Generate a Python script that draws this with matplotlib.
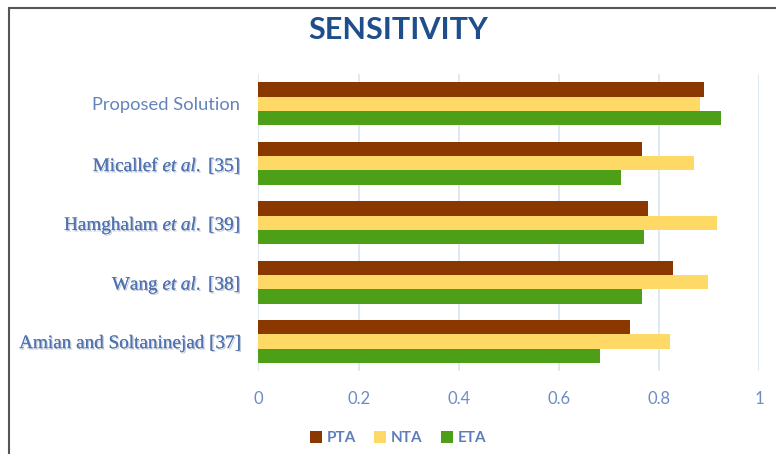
import matplotlib
matplotlib.use("Agg")
import matplotlib.pyplot as plt
import matplotlib.patheffects as pe
from matplotlib.patches import Rectangle
import numpy as np

plt.rcParams['mathtext.fontset'] = 'custom'
plt.rcParams['mathtext.rm'] = 'Liberation Serif'
plt.rcParams['mathtext.it'] = 'Liberation Serif:italic'

methods = ["Amian and Soltaninejad [37]",
           r"Wang $\mathit{et\ al.}$ [38]",
           r"Hamghalam $\mathit{et\ al.}$ [39]",
           r"Micallef $\mathit{et\ al.}$ [35]",
           "Proposed Solution"]
series = ["PTA", "NTA", "ETA"]
pta = [0.742, 0.827, 0.777, 0.765, 0.889]
nta = [0.821, 0.898, 0.915, 0.870, 0.882]
eta = [0.681, 0.766, 0.769, 0.723, 0.924]
xticks = [0, 0.2, 0.4, 0.6, 0.8, 1]

colors = {"PTA": "#8B3800", "NTA": "#FFD966", "ETA": "#4E9F18"}
label_blue = "#4F72B0"

fig = plt.figure(figsize=(7.76, 4.54), dpi=100)
ax = fig.add_axes([0.333, 0.182, 0.6455, 0.655])

y = np.arange(len(methods))
h = 0.24
for off, name, vals in [(h, "PTA", pta), (0, "NTA", nta), (-h, "ETA", eta)]:
    ax.barh(y + off, vals, height=h, color=colors[name], label=name, zorder=3)

ax.set_xlim(0, 1)
ax.set_ylim(-0.5, 4.5)
ax.set_xticks(xticks)
ax.set_xticklabels([f"{t:g}" for t in xticks], color="#6C8CC4",
                   fontsize=12, family="Lato")
ax.tick_params(axis="x", length=0, pad=14)
ax.tick_params(axis="y", length=0, pad=13)
ax.grid(axis="x", color="#DCE6F4", linewidth=1.3, zorder=0)
for s in ax.spines.values():
    s.set_visible(False)

ax.set_yticks(y)
ax.set_yticklabels(methods)
for lab in ax.get_yticklabels():
    if lab.get_text() == "Proposed Solution":
        lab.set_family("Lato")
        lab.set_fontsize(13.2)
        lab.set_color("#6584BC")
    else:
        lab.set_family("Liberation Serif")
        lab.set_fontsize(13.8)
        lab.set_color(label_blue)
        lab.set_path_effects([pe.withSimplePatchShadow(offset=(1, -1),
                                                       shadow_rgbFace="#8896B0",
                                                       alpha=0.5), pe.Normal()])

fig.text(0.513, 0.935, "SENSITIVITY", ha="center", va="center",
         fontsize=22, fontweight="bold", color="#1F4E8C", family="Lato")

leg = fig.legend(loc="center", bbox_to_anchor=(0.513, 0.035), ncol=3, frameon=False,
                 handlelength=0.8, handleheight=0.8, handletextpad=0.3,
                 columnspacing=1.2, prop={"family": "Lato", "size": 11, "weight": "bold"})
for t in leg.get_texts():
    t.set_color("#5F7DB8")

# outer frame of the chart area
fig.patches.append(Rectangle((9 / 776, -0.1), 1.2, 1.1 - 8 / 454,
                             transform=fig.transFigure, fill=False,
                             edgecolor="#555555", linewidth=1.5))

fig.savefig("out.png", dpi=100)
